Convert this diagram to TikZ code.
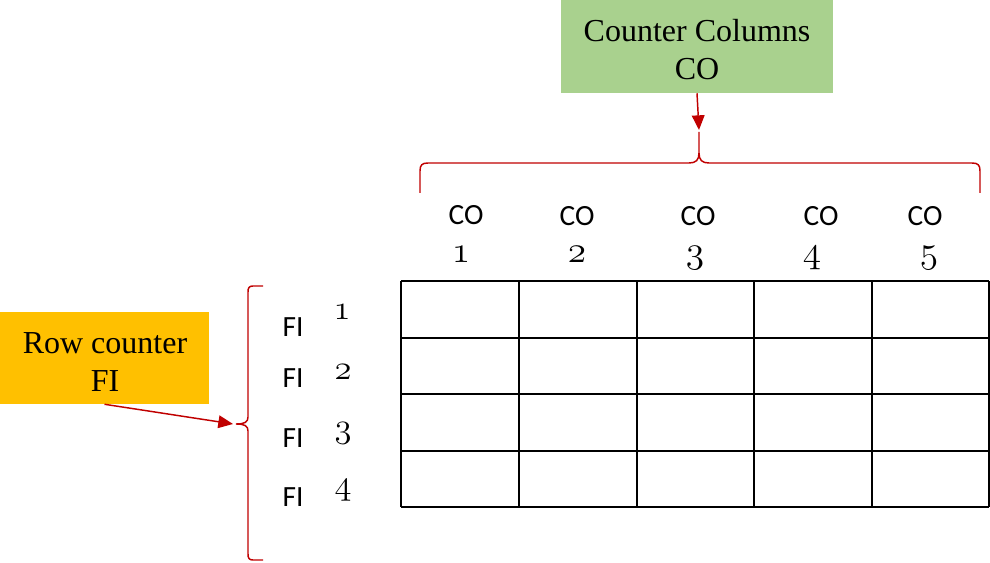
\documentclass[tikz,border=0pt]{standalone}
\usepackage{fontspec}
\usepackage{graphicx}
\setmainfont{Liberation Serif}
\newfontfamily\calib{Carlito}
\usetikzlibrary{arrows.meta}
\definecolor{bracered}{HTML}{C00000}
\definecolor{boxgreen}{HTML}{A9D18E}
\definecolor{boxorange}{HTML}{FFC000}
\newcommand{\osnum}[2]{\scalebox{#1}{\fontsize{20.74}{24}\selectfont$\mathnormal{#2}$}}
\tikzset{
  labelbox/.style={inner sep=0pt, align=center, font=\fontsize{24}{28.5}\selectfont},
  brace/.style={draw=bracered, line width=1.1pt},
  arr/.style={draw=bracered, line width=1.1pt, -{Triangle[length=11pt,width=9.5pt]}},
  gridline/.style={draw=black, line width=1.2pt},
  colhead/.style={font=\calib\fontsize{22}{24}\selectfont, inner sep=0pt},
  rowhead/.style={font=\calib\fontsize{22}{24}\selectfont, inner sep=0pt},
  colnum/.style={inner sep=0pt, anchor=base},
  rownum/.style={inner sep=0pt, anchor=base}
}
\begin{document}
\begin{tikzpicture}[x=0.75pt,y=-0.75pt]
\useasboundingbox (0,0) rectangle (990,563);
% label boxes
\node[fill=boxgreen, minimum width=204pt, minimum height=69.75pt, inner sep=0pt] (gbox) at (697,46.5) {};
\node[labelbox] (gtext) at (697,50) {Counter Columns\\CO};
\node[fill=boxorange, minimum width=156.75pt, minimum height=69pt, inner sep=0pt] (obox) at (104.5,358) {};
\node[labelbox] (otext) at (105,362) {Row counter\\FI};
% top brace
\coordinate (ttip) at (699,130);
\draw[brace] (420,193) -- (420,171) .. controls (420,165) and (422,163) .. (428,163)
  -- (689,163) .. controls (696,163) and (699,160) .. (699,153) -- (699,132)
  (699,132) -- (699,153) .. controls (699,160) and (702,163) .. (709,163)
  -- (972,163) .. controls (978,163) and (980,165) .. (980,171) -- (980,193);
% left brace
\coordinate (ltip) at (233,424);
\draw[brace] (263,286) -- (253,286) .. controls (249,286) and (248,288) .. (248,292)
  -- (248,417) .. controls (248,422) and (245,424) .. (236,424)
  .. controls (245,424) and (248,426) .. (248,431)
  -- (248,554) .. controls (248,558) and (249,560) .. (253,560) -- (263,560);
% arrows
\draw[arr] (gbox.south) -- (ttip);
\draw[arr] (obox.south) -- (ltip);
% grid
\foreach \x in {401,519,637,754,872,989} \draw[gridline] (\x,281) -- (\x,507);
\foreach \y in {281,338,394,451,507} \draw[gridline] (401,\y) -- (989,\y);
% column headers
\node[colhead] (c1) at (466,215) {CO};
\node[colhead] (c2) at (577,216) {CO};
\node[colhead] (c3) at (698,216) {CO};
\node[colhead] (c4) at (821,216) {CO};
\node[colhead] (c5) at (925,216) {CO};
\node[colnum] (n1) at (461,263) {\osnum{1.35}{1}};
\node[colnum] (n2) at (577,263) {\osnum{1.35}{2}};
\node[colnum] (n3) at (695,263) {\osnum{1.35}{3}};
\node[colnum] (n4) at (812,263) {\osnum{1.35}{4}};
\node[colnum] (n5) at (929,263) {\osnum{1.35}{5}};
% row headers
\node[rowhead] (r1) at (293,327) {FI};
\node[rowhead] (r2) at (293,378) {FI};
\node[rowhead] (r3) at (293,438) {FI};
\node[rowhead] (r4) at (293,497) {FI};
\node[rownum] (m1) at (342,320) {\osnum{1.25}{1}};
\node[rownum] (m2) at (343,379) {\osnum{1.25}{2}};
\node[rownum] (m3) at (343,437) {\osnum{1.25}{3}};
\node[rownum] (m4) at (343,494) {\osnum{1.25}{4}};
\end{tikzpicture}
\end{document}
